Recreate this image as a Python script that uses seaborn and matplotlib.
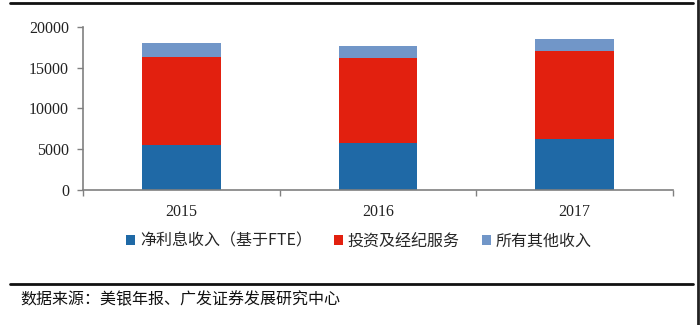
import matplotlib
matplotlib.use("Agg")
import matplotlib.pyplot as plt
import seaborn as sns
import pandas as pd
import numpy as np
from matplotlib.lines import Line2D
from matplotlib.patches import Patch

years = ["2015", "2016", "2017"]
net_interest = [5500, 5710, 6200]
invest_broker = [10830, 10410, 10820]
other_income = [1630, 1510, 1510]
series_names = ["净利息收入（基于FTE）", "投资及经纪服务", "所有其他收入"]
colors = ["#1F69A6", "#E2200F", "#7196C8"]
yticks = [0, 5000, 10000, 15000, 20000]
source = "数据来源：美银年报、广发证券发展研究中心"

sns.set_theme(style="white")
plt.rcParams["font.family"] = ["Liberation Serif", "Noto Sans CJK SC"]

df = pd.DataFrame({"year": years, "a": net_interest, "b": invest_broker, "c": other_income})

fig = plt.figure(figsize=(7, 3.25), dpi=100)
ax = fig.add_axes([83/700, 1 - 190/325, (673-83)/700, (190-26.7)/325])

bottom = np.zeros(len(years))
for col, name, c in zip(["a", "b", "c"], series_names, colors):
    sns.barplot(data=df, x="year", y=col, color=c, width=0.4, bottom=bottom,
                ax=ax, saturation=1, linewidth=0)
    bottom = bottom + df[col].values

ax.set_xlim(-0.5, 2.5)
ax.set_ylim(0, 20000)
ax.set_yticks(yticks)
ax.set_yticklabels([str(v) for v in yticks], fontsize=11.5, color="#222222")
ax.set_xlabel("")
ax.set_ylabel("")
ax.tick_params(axis="x", which="major", length=0, pad=10, labelsize=11.5, labelcolor="#222222")
ax.set_xticks([-0.5, 0.5, 1.5, 2.5], minor=True)
ax.tick_params(axis="x", which="minor", length=4, width=1, color="#808080", direction="out", bottom=True)
ax.tick_params(axis="y", length=4, width=1, color="#808080", direction="out", left=True, pad=6)
for s in ["top", "right"]:
    ax.spines[s].set_visible(False)
for s in ["left", "bottom"]:
    ax.spines[s].set_color("#808080")
    ax.spines[s].set_linewidth(1.2)
ax.grid(False)

handles = [Patch(facecolor=c, edgecolor="none") for c in colors]
leg = fig.legend(handles, series_names, loc="center", bbox_to_anchor=(359/700, 1 - 241/325),
                 ncol=3, frameon=False, handlelength=0.55, handleheight=0.55, handletextpad=0.3,
                 columnspacing=1.4, prop={"family": ["Noto Sans CJK SC"], "size": 11.5})

fig.add_artist(Line2D([10/700, 693/700], [1 - 3/325, 1 - 3/325], color="#111111", lw=2))
fig.add_artist(Line2D([10/700, 693/700], [1 - 284/325, 1 - 284/325], color="#111111", lw=2))
fig.add_artist(Line2D([698/700, 698/700], [0, 1], color="#222222", lw=2))

fig.text(20/700, 1 - 300/325, source, fontsize=11.5, va="center", ha="left",
         family=["Noto Sans CJK SC"], color="#111111")

fig.savefig("out.png", dpi=100)
